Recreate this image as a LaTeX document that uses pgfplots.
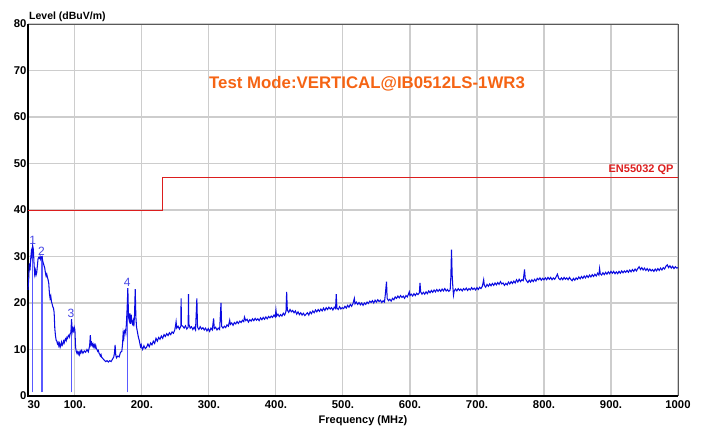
\documentclass[border=0pt]{standalone}
\usepackage{fontspec}
\setmainfont{Liberation Sans}
\usepackage{pgfplots}
\pgfplotsset{compat=1.18}
\definecolor{trace}{RGB}{10,10,225}
\definecolor{mk}{RGB}{70,70,230}
\definecolor{mkl}{RGB}{90,90,255}
\definecolor{lim}{RGB}{220,30,30}
\definecolor{ttl}{RGB}{245,100,20}
\definecolor{gridc}{RGB}{205,205,205}
\begin{document}
\begin{tikzpicture}[x=1pt,y=1pt]
\useasboundingbox (-28,-32) rectangle (673,396);
\begin{axis}[
  at={(0,0)}, anchor=south west,
  scale only axis, width=650pt, height=372pt,
  xmin=30, xmax=1000, ymin=0, ymax=80,
  xtick={30,100,200,300,400,500,600,700,800,900,1000},
  xticklabels={\hspace*{12pt}30,100.,200.,300.,400.,500.,600.,700.,800.,900.,1000},
  ytick={0,10,20,30,40,50,60,70,80},
  major tick length=0pt,
  grid=major,
  major grid style={gridc, line width=1.1pt},
  axis line style={draw=none},
  tick label style={font=\fontsize{11.3}{12}\selectfont\bfseries},
  /pgf/number format/assume math mode=true,
  xticklabel style={yshift=-1pt},
  yticklabel style={xshift=2pt},
  clip=false,
]
% frame
\addplot[gray!70!black, line width=0.8pt] coordinates {(30,80) (1000,80) (1000,0)};
\addplot[black, line width=1.6pt] coordinates {(30,80) (30,0) (1000,0)};
% limit
\addplot[lim, line width=0.8pt] coordinates {(30,40) (230,40) (230,47) (1000,47)};
% marker lines
\addplot[mkl, line width=1.3pt] coordinates {(37,0.8) (37,32.3)};
\addplot[mkl, line width=1.3pt] coordinates {(51,0.8) (51,30.0)};
\addplot[mkl, line width=1.3pt] coordinates {(95,0.8) (95,16.5)};
\addplot[mkl, line width=1.3pt] coordinates {(179,0.8) (179,23.2)};
% trace
\addplot[trace, line width=1.05pt] coordinates {
(30,22.8)(31,25.0)(32,28.5)(33,27.0)(34,29.5)(35,31.0)(36,30.0)(37,32.3)(38,31.5)(39,28.5)
(40,26.2)(41,27.0)(42,26.0)(43,26.5)(44,28.0)(45,29.5)(46,29.8)(47,29.6)(48,30.0)(49,29.4)
(50,29.9)(51,30.0)(52,29.0)(53,28.5)(54,28.0)(55,27.5)(56,26.5)(57,25.8)(58,26.2)(59,25.5)
(60,25.0)(61,24.2)(62,22.0)(63,21.0)(64,21.5)(65,20.3)(66,19.8)(67,19.2)(68,18.9)(69,18.0)
(70,14.5)(71,13.0)(72,12.0)(73,11.8)(74,11.2)(75,11.5)(76,10.8)(77,11.3)(78,10.5)(79,11.0)
(80,11.6)(81,10.9)(82,11.2)(83,11.8)(84,11.4)(85,12.0)(86,12.3)(87,11.9)(88,12.6)(89,12.4)
(90,12.9)(91,13.1)(92,12.7)(93,13.4)(94,13.6)(95,16.5)(96,13.8)(97,14.5)(98,14.0)(99,14.8)
(100,14.2)(101,10.5)(102,9.6)(103,9.2)(104,9.5)(105,9.0)(106,9.4)(107,8.9)(108,9.6)(109,9.3)
(110,9.8)(112,9.2)(114,9.7)(116,9.4)(118,10.0)(120,9.5)(122,10.8)(123,13.1)(124,11.0)(125,11.4)
(126,10.8)(127,11.2)(128,10.6)(129,11.0)(130,10.4)(131,10.9)(132,10.2)(133,10.0)(134,9.6)(135,9.8)
(136,9.2)(137,9.0)(138,8.6)(139,8.9)(140,8.3)(142,8.0)(144,7.7)(146,7.4)(148,7.6)(150,7.3)
(152,7.6)(154,7.4)(156,7.9)(158,8.4)(159,9.2)(160,11.0)(161,8.8)(162,8.2)(164,8.6)(166,8.4)
(168,9.4)(170,9.6)(171,11.0)(172,13.5)(173,12.5)(174,14.0)(175,14.2)(176,13.5)(177,16.0)(178,19.0)
(179,23.2)(180,17.0)(181,16.3)(182,17.8)(183,15.5)(184,17.5)(185,16.0)(186,15.5)(187,16.2)(188,15.0)
(189,17.5)(190,23.0)(191,17.0)(192,14.8)(193,14.0)(194,13.2)(195,12.5)(196,12.0)(197,11.2)(198,10.6)
(199,11.0)(200,10.3)(201,10.0)(203,10.8)(205,10.2)(207,10.5)(209,11.2)(211,10.6)(213,11.4)(215,11.0)
(217,11.8)(219,11.3)(221,12.4)(223,11.8)(225,12.6)(227,12.2)(229,12.9)(231,12.4)(233,13.2)(235,12.8)
(237,13.4)(239,13.0)(241,13.6)(243,13.2)(245,13.8)(247,13.5)(249,14.2)(250,15.0)(251,16.0)(252,14.6)
(254,15.0)(256,14.4)(258,15.0)(258.5,21.0)(259,15.2)(261,15.0)(263,14.6)(265,15.1)(267,14.4)(269,14.8)
(269.5,21.9)(270,15.5)(272,14.6)(274,14.9)(276,14.3)(278,14.8)(280,14.2)(282,21.0)(283,14.8)(285,14.3)
(287,14.9)(289,14.4)(291,14.7)(293,14.2)(295,14.6)(297,14.0)(299,14.5)(301,13.9)(303,14.6)(305,14.2)
(307,16.7)(308,14.5)(310,14.8)(312,14.2)(314,14.6)(316,14.3)(318,20.0)(319,15.0)(321,14.6)(323,15.0)
(325,14.7)(327,15.3)(329,15.0)(331,16.3)(332,15.4)(334,15.7)(336,15.2)(338,15.8)(340,15.5)(342,16.0)
(344,15.6)(346,16.1)(348,15.8)(350,16.3)(352,16.0)(353,17.0)(355,16.2)(357,16.5)(359,15.9)(361,16.4)
(363,16.1)(365,16.6)(367,16.2)(369,16.7)(371,16.3)(373,16.6)(375,16.2)(377,16.8)(379,16.4)(381,16.9)
(383,16.5)(385,17.0)(387,16.6)(389,17.1)(391,16.8)(393,17.2)(395,16.9)(397,17.4)(399,17.0)(400,18.5)
(401,17.2)(403,17.6)(405,17.1)(407,17.5)(409,17.2)(411,17.8)(413,17.4)(415,18.2)(416,22.4)(417,18.5)
(419,18.0)(421,18.6)(423,18.1)(425,18.4)(427,17.9)(429,18.3)(431,17.6)(433,18.1)(435,17.5)(437,17.9)
(439,17.4)(441,17.8)(443,17.3)(445,17.6)(447,17.9)(449,17.4)(451,18.1)(453,17.7)(455,18.3)(457,17.9)
(459,18.5)(461,18.1)(463,18.6)(465,18.2)(467,18.7)(469,18.3)(471,18.9)(473,18.4)(475,19.0)(477,18.6)
(479,19.1)(481,18.7)(483,19.0)(485,18.5)(487,19.1)(489,18.8)(490,21.9)(491,18.9)(493,18.6)(495,19.2)
(497,18.7)(499,19.0)(501,18.8)(503,19.3)(505,18.9)(507,19.5)(509,19.1)(511,19.7)(513,19.3)(515,19.9)
(517,21.0)(518,19.8)(520,20.2)(522,19.7)(524,20.1)(526,19.6)(528,20.0)(530,19.5)(532,20.0)(534,19.7)
(536,20.2)(538,19.9)(540,20.4)(542,20.1)(544,20.5)(546,20.0)(548,20.6)(550,20.2)(552,20.7)(554,20.3)
(556,20.6)(558,20.1)(560,20.5)(562,20.2)(563,21.5)(565,24.6)(566,21.0)(568,20.5)(570,20.8)(572,20.4)
(574,21.0)(576,20.7)(578,21.3)(580,21.0)(582,21.5)(584,21.1)(586,21.6)(588,21.2)(590,21.5)(592,21.0)
(594,21.6)(596,21.3)(598,22.0)(599,22.4)(600,21.6)(602,21.9)(604,21.5)(606,22.0)(608,21.6)(610,22.1)
(612,21.8)(614,22.2)(615,24.3)(616,22.4)(618,21.9)(620,22.3)(622,21.9)(624,22.4)(626,22.0)(628,22.6)
(630,22.2)(632,22.7)(634,22.3)(636,22.8)(638,22.4)(640,22.9)(642,22.5)(644,22.9)(646,22.5)(648,23.0)
(650,22.6)(652,23.1)(654,22.6)(656,22.9)(658,22.5)(660,22.8)(661,25.5)(662,31.5)(663,26.0)(664,23.5)
(665,21.7)(666,22.6)(668,23.0)(670,22.6)(672,23.1)(674,22.7)(676,23.0)(678,22.6)(680,23.1)(682,22.8)
(684,23.2)(686,22.7)(688,23.1)(690,22.8)(692,23.3)(694,22.9)(696,23.2)(698,22.8)(700,23.3)(702,22.9)
(704,23.4)(706,23.1)(708,23.6)(710,25.0)(711,23.8)(713,23.4)(715,24.0)(717,23.6)(719,24.1)(721,23.7)
(723,24.2)(725,23.8)(727,24.3)(729,23.9)(731,24.4)(733,24.0)(735,24.6)(737,24.1)(739,24.3)(741,23.8)
(743,24.2)(745,23.9)(747,24.5)(749,24.1)(751,24.6)(753,24.2)(755,24.7)(757,24.3)(759,25.0)(761,24.5)
(763,25.1)(765,24.6)(767,25.0)(769,24.8)(771,27.2)(772,25.3)(774,24.8)(776,24.4)(778,24.9)(780,24.5)
(782,25.0)(784,24.6)(786,25.1)(788,24.7)(790,25.3)(792,25.0)(794,25.4)(796,24.9)(798,25.3)(800,25.0)
(802,25.4)(804,25.0)(806,25.5)(808,25.1)(810,25.5)(812,25.0)(814,25.4)(816,25.1)(818,25.6)(820,26.2)
(822,25.3)(824,25.0)(826,25.4)(828,25.0)(830,25.5)(832,25.1)(834,25.4)(836,25.0)(838,25.5)(840,25.1)
(842,24.8)(844,25.3)(846,24.9)(848,25.4)(850,25.1)(852,25.6)(854,25.2)(856,25.7)(858,25.3)(860,25.8)
(862,25.4)(864,25.9)(866,25.5)(868,26.0)(870,25.6)(872,26.1)(874,25.7)(876,26.2)(878,25.8)(880,26.4)
(882,26.0)(883,27.4)(884,26.3)(886,26.0)(888,26.5)(890,26.1)(892,26.6)(894,26.2)(896,26.7)(898,26.3)
(900,26.8)(902,26.4)(904,26.8)(906,26.3)(908,26.7)(910,26.3)(912,26.8)(914,26.4)(916,26.9)(918,26.5)
(920,26.9)(922,26.6)(924,27.0)(926,26.6)(928,27.1)(930,26.7)(932,27.2)(934,26.8)(936,27.3)(938,26.9)
(940,27.4)(942,27.8)(944,27.2)(946,27.6)(948,27.1)(950,27.5)(952,27.0)(954,27.4)(956,26.9)(958,27.3)
(960,26.9)(962,27.2)(964,26.8)(966,27.3)(968,26.9)(970,27.4)(972,27.0)(974,27.5)(976,27.1)(978,27.6)
(980,27.3)(982,27.9)(984,28.2)(986,27.6)(988,28.0)(990,27.5)(992,27.9)(994,27.4)(996,27.8)(998,27.5)
(1000,27.6)
};
% marker labels
\node[mk, font=\fontsize{12}{12}\selectfont, anchor=south, inner sep=1pt] at (axis cs:37,32.4) {1};
\node[mk, font=\fontsize{12}{12}\selectfont, anchor=south, inner sep=1pt] at (axis cs:50,30.0) {2};
\node[mk, font=\fontsize{12}{12}\selectfont, anchor=south, inner sep=1pt] at (axis cs:94,16.6) {3};
\node[mk, font=\fontsize{12}{12}\selectfont, anchor=south, inner sep=1pt] at (axis cs:178,23.3) {4};
% texts
\node[lim, font=\fontsize{11}{12}\selectfont\bfseries, anchor=south east, inner sep=1pt] at (axis cs:995,47.3) {EN55032 QP};
\node[ttl, font=\fontsize{16.8}{18}\selectfont\bfseries] at (axis cs:536,67.1) {Test Mode:VERTICAL@IB0512LS-1WR3};
\node[font=\fontsize{10.5}{12}\selectfont\bfseries, anchor=south west, inner sep=1pt] at (axis cs:30,80.3) {Level (dBuV/m)};
\node[font=\fontsize{11}{12}\selectfont\bfseries, anchor=north] at (axis cs:530,-3.5) {Frequency (MHz)};
\end{axis}
\end{tikzpicture}
\end{document}
